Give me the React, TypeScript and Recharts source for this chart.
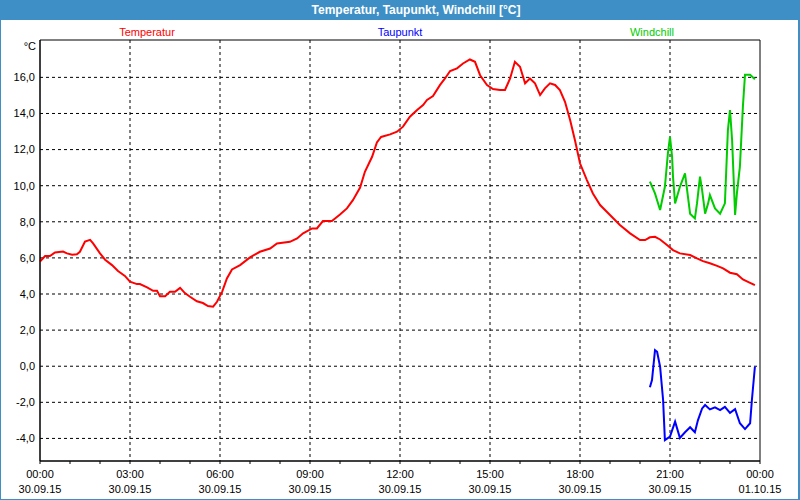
import React from 'react';
import { LineChart, Line, XAxis, YAxis, CartesianGrid, ReferenceArea } from 'recharts';

// Stunden seit 30.09.15 00:00
const tempHours = [0, 0.17, 0.33, 0.5, 0.77, 0.9, 1.07, 1.23, 1.33, 1.5, 1.67, 1.77, 2, 2.17, 2.4, 2.6, 2.83, 3, 3.23, 3.33, 3.57, 3.77, 3.9, 4, 4.17, 4.33, 4.5, 4.67, 4.83, 5, 5.23, 5.43, 5.6, 5.77, 5.9, 6.07, 6.23, 6.4, 6.67, 7, 7.33, 7.67, 7.9, 8.33, 8.57, 8.77, 9.07, 9.23, 9.43, 9.73, 10, 10.23, 10.43, 10.67, 10.83, 11.07, 11.23, 11.37, 11.67, 11.9, 12.1, 12.33, 12.57, 12.77, 12.9, 13.1, 13.33, 13.5, 13.67, 13.9, 14.1, 14.33, 14.5, 14.67, 14.9, 15.1, 15.33, 15.5, 15.67, 15.83, 16, 16.17, 16.33, 16.5, 16.67, 16.83, 17, 17.17, 17.33, 17.5, 17.67, 17.83, 18, 18.23, 18.43, 18.67, 19, 19.33, 19.67, 20, 20.17, 20.33, 20.5, 20.67, 20.9, 21.1, 21.33, 21.67, 21.9, 22.1, 22.33, 22.57, 22.77, 23, 23.23, 23.43, 23.67, 23.83];
const tempValues = [5.8, 6.1, 6.1, 6.3, 6.35, 6.25, 6.17, 6.2, 6.34, 6.9, 7.0, 6.8, 6.25, 5.9, 5.6, 5.27, 5.0, 4.68, 4.55, 4.55, 4.37, 4.18, 4.18, 3.88, 3.88, 4.12, 4.12, 4.34, 4.05, 3.85, 3.6, 3.5, 3.33, 3.3, 3.57, 4.12, 4.86, 5.36, 5.6, 6.03, 6.34, 6.52, 6.8, 6.89, 7.08, 7.36, 7.63, 7.63, 8.04, 8.04, 8.4, 8.74, 9.2, 9.9, 10.77, 11.6, 12.4, 12.7, 12.84, 12.99, 13.27, 13.82, 14.19, 14.47, 14.75, 14.96, 15.57, 15.94, 16.35, 16.5, 16.77, 16.99, 16.86, 16.12, 15.57, 15.35, 15.3, 15.3, 15.94, 16.86, 16.59, 15.67, 15.94, 15.67, 15.02, 15.39, 15.67, 15.58, 15.3, 14.65, 13.64, 12.53, 11.24, 10.31, 9.57, 8.93, 8.38, 7.82, 7.36, 6.99, 6.99, 7.14, 7.17, 7.02, 6.71, 6.43, 6.25, 6.16, 5.97, 5.82, 5.7, 5.56, 5.42, 5.18, 5.1, 4.81, 4.62, 4.49];

const dewHours = [20.33, 20.4, 20.5, 20.57, 20.67, 20.77, 20.83, 21, 21.17, 21.33, 21.5, 21.67, 21.83, 21.93, 22.07, 22.17, 22.33, 22.5, 22.67, 22.83, 23, 23.17, 23.33, 23.5, 23.67, 23.73, 23.83];
const dewValues = [-1.17, -0.77, 0.89, 0.8, -0.03, -1.87, -4.09, -3.9, -3.07, -3.97, -3.66, -3.38, -3.66, -3.0, -2.34, -2.15, -2.39, -2.28, -2.43, -2.25, -2.58, -2.38, -3.16, -3.48, -3.16, -1.87, -0.03];

const chillHours = [20.33, 20.5, 20.67, 20.83, 20.93, 21, 21.07, 21.1, 21.17, 21.33, 21.5, 21.67, 21.83, 21.9, 22, 22.07, 22.17, 22.27, 22.33, 22.5, 22.67, 22.83, 22.93, 23, 23.07, 23.17, 23.23, 23.33, 23.43, 23.5, 23.67, 23.83];
const chillValues = [10.22, 9.57, 8.65, 9.94, 11.79, 12.71, 11.6, 10.5, 9.02, 9.94, 10.68, 8.45, 8.19, 9.02, 10.5, 9.76, 8.45, 9.02, 9.48, 8.74, 8.45, 9.02, 13.08, 14.19, 12.53, 8.38, 9.57, 11.05, 14.38, 16.15, 16.15, 15.9];

const yTicks = [-4, -2, 0, 2, 4, 6, 8, 10, 12, 14, 16];
const hourTicks = Array.from({ length: 25 }, (_, i) => i);
const timeLabels: { [h: number]: [string, string] } = {
  0: ['00:00', '30.09.15'],
  3: ['03:00', '30.09.15'],
  6: ['06:00', '30.09.15'],
  9: ['09:00', '30.09.15'],
  12: ['12:00', '30.09.15'],
  15: ['15:00', '30.09.15'],
  18: ['18:00', '30.09.15'],
  21: ['21:00', '30.09.15'],
  24: ['00:00', '01.10.15'],
};

const Y_MIN = -5.25;
const Y_MAX = 18.07;
const FONT = '"Liberation Sans", Arial, sans-serif';

const toPoints = (hours: number[], values: number[]) =>
  hours.map((h, i) => ({ h, v: values[i] }));

const tempData = toPoints(tempHours, tempValues);
const dewData = toPoints(dewHours, dewValues);
const chillData = toPoints(chillHours, chillValues);

function TimeTick(props: any) {
  const { x, y, payload } = props;
  const label = timeLabels[payload.value];
  if (!label) return null;
  return (
    <g>
      <text x={x} y={y + 12} textAnchor="middle" fontSize={11} fontFamily={FONT} fill="#000">{label[0]}</text>
      <text x={x} y={y + 27} textAnchor="middle" fontSize={11} fontFamily={FONT} fill="#000">{label[1]}</text>
    </g>
  );
}

export default function App() {
  return (
    <div style={{ position: 'absolute', left: 0, top: 0, width: 800, height: 500, background: '#fff', fontFamily: FONT }}>
      <LineChart
        width={800}
        height={500}
        margin={{ top: 40, right: 40, left: 0, bottom: 0 }}
      >
        <CartesianGrid stroke="#000" strokeDasharray="3 3" verticalValues={[3, 6, 9, 12, 15, 18, 21]} horizontalValues={yTicks} />
        <XAxis
          type="number"
          dataKey="h"
          domain={[0, 24]}
          ticks={hourTicks}
          interval={0}
          height={39}
          stroke="#000"
          tickSize={3}
          tickMargin={2}
          tick={<TimeTick />}
          allowDuplicatedCategory={false}
        />
        <YAxis
          type="number"
          domain={[Y_MIN, Y_MAX]}
          ticks={yTicks}
          interval={0}
          width={40}
          stroke="#000"
          tickLine={false}
          tickSize={0}
          tickMargin={5}
          tick={{ fontSize: 11, fill: '#000', fontFamily: FONT }}
          tickFormatter={(v: number) => v.toFixed(1).replace('.', ',')}
          allowDataOverflow
        />
        <ReferenceArea x1={0} x2={24} y1={Y_MIN} y2={Y_MAX} fill="none" stroke="#000" strokeWidth={1} ifOverflow="visible" />
        <Line data={tempData} dataKey="v" type="linear" stroke="#ff0000" strokeWidth={2} dot={false} isAnimationActive={false} />
        <Line data={dewData} dataKey="v" type="linear" stroke="#0000ff" strokeWidth={2} dot={false} isAnimationActive={false} />
        <Line data={chillData} dataKey="v" type="linear" stroke="#00cc00" strokeWidth={2} dot={false} isAnimationActive={false} />
      </LineChart>

      <div style={{ position: 'absolute', left: 0, top: 0, width: 800, height: 20, background: '#3d8fc6' }} />
      <div style={{ position: 'absolute', left: 216, top: 3, width: 400, textAlign: 'center', color: '#fff', fontWeight: 'bold', fontSize: 12, lineHeight: '14px' }}>
        Temperatur, Taupunkt, Windchill [°C]
      </div>
      <div style={{ position: 'absolute', left: 0, top: 0, width: 800, height: 500, boxSizing: 'border-box', border: '1px solid #3d8fc6', borderRightWidth: 2, pointerEvents: 'none' }} />

      <div style={{ position: 'absolute', left: 97, top: 25, width: 100, textAlign: 'center', color: '#ff0000', fontSize: 11, lineHeight: '14px' }}>Temperatur</div>
      <div style={{ position: 'absolute', left: 350, top: 25, width: 100, textAlign: 'center', color: '#0000ff', fontSize: 11, lineHeight: '14px' }}>Taupunkt</div>
      <div style={{ position: 'absolute', left: 602, top: 25, width: 100, textAlign: 'center', color: '#00cc00', fontSize: 11, lineHeight: '14px' }}>Windchill</div>
      <div style={{ position: 'absolute', left: 15, top: 39, width: 21, textAlign: 'right', color: '#000', fontSize: 11, lineHeight: '14px' }}>°C</div>
    </div>
  );
}
